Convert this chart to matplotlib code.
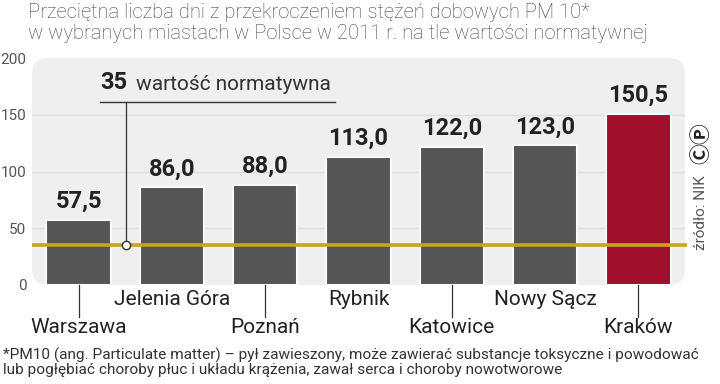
import matplotlib
matplotlib.use("Agg")
import matplotlib.pyplot as plt
from matplotlib.patches import FancyBboxPatch

# --- data -------------------------------------------------------------
cities = ["Warszawa", "Jelenia Góra", "Poznań", "Rybnik",
          "Katowice", "Nowy Sącz", "Kraków"]
days = [57.5, 86.0, 88.0, 113.0, 122.0, 123.0, 150.5]
norm_value = 35
y_ticks = [0, 50, 100, 150, 200]

title = ("Przeciętna liczba dni z przekroczeniem stężeń dobowych PM 10*\n"
         "w wybranych miastach w Polsce w 2011 r. na tle wartości normatywnej")
footnote = ("*PM10 (ang. Particulate matter) – pył zawieszony, może zawierać "
            "substancje toksyczne i powodować\n"
            "lub pogłębiać choroby płuc i układu krążenia, zawał serca "
            "i choroby nowotworowe")

plt.rcParams["font.family"] = ["Roboto", "DejaVu Sans"]

BAR = "#555555"
HIGHLIGHT = "#a00f2b"
GOLD = "#c9a227"
TEXT = "#444444"

fig = plt.figure(figsize=(7.2, 3.84), dpi=100)
ax = fig.add_axes([32 / 720, 1 - 285 / 384, 653 / 720, 227 / 384])
ax.set_xlim(-0.5, 6.5)
ax.set_ylim(0, 200)
for s in ax.spines.values():
    s.set_visible(False)
ax.patch.set_visible(False)

# rounded light panel behind the plot
panel = FancyBboxPatch((0, 0), 1, 1, transform=ax.transAxes,
                       boxstyle="round,pad=0,rounding_size=0.025",
                       mutation_aspect=653 / 227,
                       facecolor="#efefef", edgecolor="none", zorder=0)
ax.add_patch(panel)

for v in y_ticks[1:-1]:
    ax.plot([-0.5, 6.5], [v, v], color="#dcdcdc", lw=1, zorder=1)

colors = [BAR] * (len(cities) - 1) + [HIGHLIGHT]
x = list(range(len(cities)))
ax.bar(x, days, width=0.69, color=colors, edgecolor="#fafafa",
       linewidth=1.5, zorder=2)

for xi, v in zip(x, days):
    ax.annotate(f"{v:.1f}".replace(".", ","), (xi, v),
                xytext=(0, 5), textcoords="offset points",
                ha="center", va="bottom", fontsize=17, fontweight="bold",
                color="#222222", zorder=4)

# norm line with callout
ax.plot([-0.5, 6.52], [norm_value, norm_value], color=GOLD, lw=2.6,
        zorder=3, solid_capstyle="butt", clip_on=False)
ax.plot([0.507, 0.507], [norm_value, 161.5], color="#333333", lw=0.9, zorder=3)
ax.plot([0.23, 2.75], [161.5, 161.5], color="#333333", lw=1, zorder=3)
ax.plot([0.507], [norm_value], marker="o", ms=6, mfc="white",
        mec="#333333", mew=1, zorder=5)
ax.text(0.23, 168, str(norm_value), fontsize=17, fontweight="bold",
        color="#222222", ha="left", va="bottom")
ax.text(0.615, 168, "wartość normatywna", fontsize=15, color="#333333",
        ha="left", va="bottom")

# y ticks
ax.set_xticks([])
ax.set_yticks(y_ticks)
ax.set_yticklabels([str(t) for t in y_ticks])
ax.tick_params(axis="y", length=0, pad=4, labelsize=11, labelcolor="#555555")

# staggered city labels
for xi, name in zip(x, cities):
    if xi % 2 == 0:
        ax.plot([xi, xi], [0, -28], color="#333333", lw=0.9, clip_on=False)
        ax.text(xi, -29, name, ha="center", va="top", fontsize=15,
                color="#222222")
    else:
        ax.text(xi, -4, name, ha="center", va="top", fontsize=15,
                color="#222222")

fig.text(28 / 720, 1 - 3 / 384, title, ha="left", va="top", fontsize=14.5,
         fontweight="light", color=TEXT, linespacing=1.15)
fig.text(3 / 720, 1 - 348 / 384, footnote, ha="left", va="top", fontsize=11.1,
         color="#333333", linespacing=0.95)

fig.text(701 / 720, 1 - 250 / 384, "źródło: NIK", rotation=90, ha="center",
         va="bottom", fontsize=11, color="#555555")
fig.text(701 / 720, 1 - 143 / 384, "ⒸⓅ", rotation=90, ha="center",
         va="center", fontsize=15, fontweight="bold", color="#222222",
         family=["Noto Sans CJK JP", "DejaVu Sans"])

fig.savefig("out.png", dpi=100)
